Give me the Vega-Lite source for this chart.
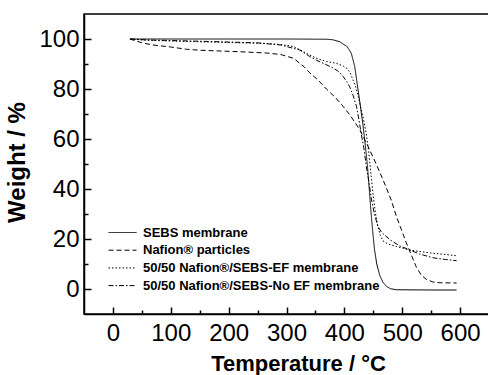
{
  "$schema": "https://vega.github.io/schema/vega-lite/v6.json",
  "autosize": "none",
  "width": 405,
  "height": 300,
  "padding": {"left": 84, "top": 14, "right": 0, "bottom": 61},
  "background": "white",
  "config": {
    "view": {"stroke": "black", "strokeWidth": 1.5},
    "axis": {
      "grid": false,
      "domainColor": "black",
      "domainWidth": 1.5,
      "tickColor": "black",
      "tickWidth": 1.5,
      "labelFont": "Liberation Sans",
      "labelFontSize": 24,
      "labelColor": "black",
      "titleFont": "Liberation Sans",
      "titleFontSize": 24,
      "titleFontWeight": "bold",
      "titleColor": "black"
    }
  },
  "data": {
    "values": [
      {"s": "SEBS membrane", "T": 30, "W": 100},
      {"s": "SEBS membrane", "T": 100, "W": 100},
      {"s": "SEBS membrane", "T": 200, "W": 100},
      {"s": "SEBS membrane", "T": 300, "W": 100},
      {"s": "SEBS membrane", "T": 370, "W": 99.9},
      {"s": "SEBS membrane", "T": 380, "W": 99.7},
      {"s": "SEBS membrane", "T": 392, "W": 98.9},
      {"s": "SEBS membrane", "T": 405, "W": 96.9},
      {"s": "SEBS membrane", "T": 412, "W": 94.3},
      {"s": "SEBS membrane", "T": 418, "W": 88.9},
      {"s": "SEBS membrane", "T": 422, "W": 82.3},
      {"s": "SEBS membrane", "T": 427, "W": 74.3},
      {"s": "SEBS membrane", "T": 432, "W": 66},
      {"s": "SEBS membrane", "T": 436, "W": 58},
      {"s": "SEBS membrane", "T": 440, "W": 49},
      {"s": "SEBS membrane", "T": 443, "W": 40},
      {"s": "SEBS membrane", "T": 446, "W": 31},
      {"s": "SEBS membrane", "T": 449, "W": 23},
      {"s": "SEBS membrane", "T": 452, "W": 16},
      {"s": "SEBS membrane", "T": 456, "W": 10},
      {"s": "SEBS membrane", "T": 461, "W": 5.5},
      {"s": "SEBS membrane", "T": 467, "W": 2.6},
      {"s": "SEBS membrane", "T": 473, "W": 1},
      {"s": "SEBS membrane", "T": 480, "W": 0.1},
      {"s": "SEBS membrane", "T": 490, "W": -0.3},
      {"s": "SEBS membrane", "T": 550, "W": -0.4},
      {"s": "SEBS membrane", "T": 594, "W": -0.4},

      {"s": "Nafion® particles", "T": 29, "W": 100},
      {"s": "Nafion® particles", "T": 50, "W": 98.5},
      {"s": "Nafion® particles", "T": 69, "W": 97.6},
      {"s": "Nafion® particles", "T": 100, "W": 96.8},
      {"s": "Nafion® particles", "T": 127, "W": 95.9},
      {"s": "Nafion® particles", "T": 150, "W": 95.5},
      {"s": "Nafion® particles", "T": 185, "W": 95.2},
      {"s": "Nafion® particles", "T": 220, "W": 94.9},
      {"s": "Nafion® particles", "T": 265, "W": 94.4},
      {"s": "Nafion® particles", "T": 290, "W": 93.8},
      {"s": "Nafion® particles", "T": 312, "W": 92.3},
      {"s": "Nafion® particles", "T": 330, "W": 89},
      {"s": "Nafion® particles", "T": 340, "W": 86.5},
      {"s": "Nafion® particles", "T": 355, "W": 83.5},
      {"s": "Nafion® particles", "T": 369, "W": 80},
      {"s": "Nafion® particles", "T": 385, "W": 76.5},
      {"s": "Nafion® particles", "T": 398, "W": 73},
      {"s": "Nafion® particles", "T": 410, "W": 69.5},
      {"s": "Nafion® particles", "T": 427, "W": 63.6},
      {"s": "Nafion® particles", "T": 440, "W": 57.5},
      {"s": "Nafion® particles", "T": 455, "W": 50},
      {"s": "Nafion® particles", "T": 467, "W": 43.6},
      {"s": "Nafion® particles", "T": 481, "W": 35.6},
      {"s": "Nafion® particles", "T": 490, "W": 29},
      {"s": "Nafion® particles", "T": 499, "W": 23.5},
      {"s": "Nafion® particles", "T": 507, "W": 18.5},
      {"s": "Nafion® particles", "T": 515, "W": 14},
      {"s": "Nafion® particles", "T": 524, "W": 9},
      {"s": "Nafion® particles", "T": 533, "W": 5.5},
      {"s": "Nafion® particles", "T": 542, "W": 3.8},
      {"s": "Nafion® particles", "T": 553, "W": 2.8},
      {"s": "Nafion® particles", "T": 565, "W": 2.5},
      {"s": "Nafion® particles", "T": 594, "W": 2.4},

      {"s": "50/50 Nafion®/SEBS-EF membrane", "T": 30, "W": 100},
      {"s": "50/50 Nafion®/SEBS-EF membrane", "T": 60, "W": 99.5},
      {"s": "50/50 Nafion®/SEBS-EF membrane", "T": 100, "W": 99.2},
      {"s": "50/50 Nafion®/SEBS-EF membrane", "T": 150, "W": 98.9},
      {"s": "50/50 Nafion®/SEBS-EF membrane", "T": 200, "W": 98.6},
      {"s": "50/50 Nafion®/SEBS-EF membrane", "T": 254, "W": 98.3},
      {"s": "50/50 Nafion®/SEBS-EF membrane", "T": 290, "W": 97.8},
      {"s": "50/50 Nafion®/SEBS-EF membrane", "T": 312, "W": 97},
      {"s": "50/50 Nafion®/SEBS-EF membrane", "T": 325, "W": 95.5},
      {"s": "50/50 Nafion®/SEBS-EF membrane", "T": 340, "W": 93.6},
      {"s": "50/50 Nafion®/SEBS-EF membrane", "T": 355, "W": 92},
      {"s": "50/50 Nafion®/SEBS-EF membrane", "T": 369, "W": 91},
      {"s": "50/50 Nafion®/SEBS-EF membrane", "T": 386, "W": 90.3},
      {"s": "50/50 Nafion®/SEBS-EF membrane", "T": 398, "W": 89.2},
      {"s": "50/50 Nafion®/SEBS-EF membrane", "T": 404, "W": 88.3},
      {"s": "50/50 Nafion®/SEBS-EF membrane", "T": 410, "W": 86.5},
      {"s": "50/50 Nafion®/SEBS-EF membrane", "T": 415, "W": 83.6},
      {"s": "50/50 Nafion®/SEBS-EF membrane", "T": 420, "W": 80.5},
      {"s": "50/50 Nafion®/SEBS-EF membrane", "T": 424, "W": 77},
      {"s": "50/50 Nafion®/SEBS-EF membrane", "T": 428, "W": 73},
      {"s": "50/50 Nafion®/SEBS-EF membrane", "T": 432, "W": 69},
      {"s": "50/50 Nafion®/SEBS-EF membrane", "T": 438, "W": 62},
      {"s": "50/50 Nafion®/SEBS-EF membrane", "T": 442, "W": 55},
      {"s": "50/50 Nafion®/SEBS-EF membrane", "T": 446, "W": 46},
      {"s": "50/50 Nafion®/SEBS-EF membrane", "T": 450, "W": 37},
      {"s": "50/50 Nafion®/SEBS-EF membrane", "T": 454, "W": 30},
      {"s": "50/50 Nafion®/SEBS-EF membrane", "T": 458, "W": 25},
      {"s": "50/50 Nafion®/SEBS-EF membrane", "T": 462, "W": 21.5},
      {"s": "50/50 Nafion®/SEBS-EF membrane", "T": 467, "W": 19.2},
      {"s": "50/50 Nafion®/SEBS-EF membrane", "T": 475, "W": 18},
      {"s": "50/50 Nafion®/SEBS-EF membrane", "T": 490, "W": 17},
      {"s": "50/50 Nafion®/SEBS-EF membrane", "T": 513, "W": 15.6},
      {"s": "50/50 Nafion®/SEBS-EF membrane", "T": 530, "W": 15},
      {"s": "50/50 Nafion®/SEBS-EF membrane", "T": 553, "W": 14.3},
      {"s": "50/50 Nafion®/SEBS-EF membrane", "T": 575, "W": 13.8},
      {"s": "50/50 Nafion®/SEBS-EF membrane", "T": 594, "W": 13.3},

      {"s": "50/50 Nafion®/SEBS-No EF membrane", "T": 30, "W": 100},
      {"s": "50/50 Nafion®/SEBS-No EF membrane", "T": 60, "W": 99.6},
      {"s": "50/50 Nafion®/SEBS-No EF membrane", "T": 100, "W": 99.4},
      {"s": "50/50 Nafion®/SEBS-No EF membrane", "T": 150, "W": 99.1},
      {"s": "50/50 Nafion®/SEBS-No EF membrane", "T": 200, "W": 98.8},
      {"s": "50/50 Nafion®/SEBS-No EF membrane", "T": 254, "W": 98.4},
      {"s": "50/50 Nafion®/SEBS-No EF membrane", "T": 290, "W": 97.6},
      {"s": "50/50 Nafion®/SEBS-No EF membrane", "T": 323, "W": 95.6},
      {"s": "50/50 Nafion®/SEBS-No EF membrane", "T": 340, "W": 93},
      {"s": "50/50 Nafion®/SEBS-No EF membrane", "T": 352, "W": 91.5},
      {"s": "50/50 Nafion®/SEBS-No EF membrane", "T": 366, "W": 90},
      {"s": "50/50 Nafion®/SEBS-No EF membrane", "T": 380, "W": 88.5},
      {"s": "50/50 Nafion®/SEBS-No EF membrane", "T": 390, "W": 87},
      {"s": "50/50 Nafion®/SEBS-No EF membrane", "T": 398, "W": 85},
      {"s": "50/50 Nafion®/SEBS-No EF membrane", "T": 404, "W": 83},
      {"s": "50/50 Nafion®/SEBS-No EF membrane", "T": 409, "W": 81},
      {"s": "50/50 Nafion®/SEBS-No EF membrane", "T": 415, "W": 77.5},
      {"s": "50/50 Nafion®/SEBS-No EF membrane", "T": 421, "W": 73},
      {"s": "50/50 Nafion®/SEBS-No EF membrane", "T": 425, "W": 68},
      {"s": "50/50 Nafion®/SEBS-No EF membrane", "T": 429, "W": 62.3},
      {"s": "50/50 Nafion®/SEBS-No EF membrane", "T": 434, "W": 56},
      {"s": "50/50 Nafion®/SEBS-No EF membrane", "T": 438, "W": 49},
      {"s": "50/50 Nafion®/SEBS-No EF membrane", "T": 443, "W": 42},
      {"s": "50/50 Nafion®/SEBS-No EF membrane", "T": 447, "W": 35.6},
      {"s": "50/50 Nafion®/SEBS-No EF membrane", "T": 452, "W": 30},
      {"s": "50/50 Nafion®/SEBS-No EF membrane", "T": 458, "W": 25},
      {"s": "50/50 Nafion®/SEBS-No EF membrane", "T": 465, "W": 22.5},
      {"s": "50/50 Nafion®/SEBS-No EF membrane", "T": 480, "W": 19.5},
      {"s": "50/50 Nafion®/SEBS-No EF membrane", "T": 496, "W": 17.2},
      {"s": "50/50 Nafion®/SEBS-No EF membrane", "T": 513, "W": 15.6},
      {"s": "50/50 Nafion®/SEBS-No EF membrane", "T": 530, "W": 14},
      {"s": "50/50 Nafion®/SEBS-No EF membrane", "T": 553, "W": 12.5},
      {"s": "50/50 Nafion®/SEBS-No EF membrane", "T": 575, "W": 11.8},
      {"s": "50/50 Nafion®/SEBS-No EF membrane", "T": 594, "W": 11.3}
    ]
  },
  "resolve": {"axis": {"x": "independent", "y": "independent"}},
  "layer": [
    {
      "mark": {"type": "line", "color": "black", "strokeWidth": 1},
      "encoding": {
        "x": {
          "field": "T", "type": "quantitative",
          "scale": {"domain": [-50, 650], "nice": false, "zero": false},
          "axis": {
            "orient": "bottom",
            "values": [0, 100, 200, 300, 400, 500, 600],
            "tickSize": -7,
            "labelPadding": 14,
            "labelOverlap": false,
            "labelFlush": false,
            "title": "Temperature / °C",
            "titleFontSize": 22,
            "titleX": 214,
            "titleY": 56,
            "titleBaseline": "alphabetic",
            "titleAnchor": null
          }
        },
        "y": {
          "field": "W", "type": "quantitative",
          "scale": {"domain": [-10, 110], "nice": false, "zero": false},
          "axis": {
            "orient": "left",
            "values": [0, 20, 40, 60, 80, 100],
            "tickSize": -7,
            "labelPadding": 12,
            "labelOverlap": false,
            "labelFlush": false,
            "title": "Weight / %",
            "titleAngle": -90,
            "titleX": -60,
            "titleY": 148,
            "titleBaseline": "alphabetic",
            "titleAlign": "center"
          }
        },
        "strokeDash": {
          "field": "s", "type": "nominal",
          "scale": {
            "domain": ["SEBS membrane", "Nafion® particles", "50/50 Nafion®/SEBS-EF membrane", "50/50 Nafion®/SEBS-No EF membrane"],
            "range": [[1, 0], [5, 3], [1.5, 2], [5, 2, 1.5, 2]]
          },
          "legend": {
            "title": null,
            "orient": "none",
            "legendX": 31,
            "legendY": 211,
            "padding": 0,
            "symbolType": "M-2,0H2",
            "symbolSize": 196,
            "symbolStrokeColor": "black",
            "symbolStrokeWidth": 1,
            "labelOffset": 13,
            "rowPadding": 2.7,
            "labelFont": "Liberation Sans",
            "labelFontSize": 13,
            "labelFontWeight": "bold",
            "labelColor": "black",
            "labelLimit": 400
          }
        }
      }
    },
    {
      "mark": {"type": "line", "opacity": 0},
      "encoding": {
        "x": {
          "field": "T", "type": "quantitative",
          "axis": {
            "orient": "bottom",
            "values": [50, 150, 250, 350, 450, 550],
            "tickSize": -4,
            "labels": false,
            "domain": false,
            "title": null
          }
        },
        "y": {
          "field": "W", "type": "quantitative",
          "axis": {
            "orient": "left",
            "values": [10, 30, 50, 70, 90],
            "tickSize": -4,
            "labels": false,
            "domain": false,
            "title": null
          }
        },
        "detail": {"field": "s", "type": "nominal"}
      }
    }
  ]
}
